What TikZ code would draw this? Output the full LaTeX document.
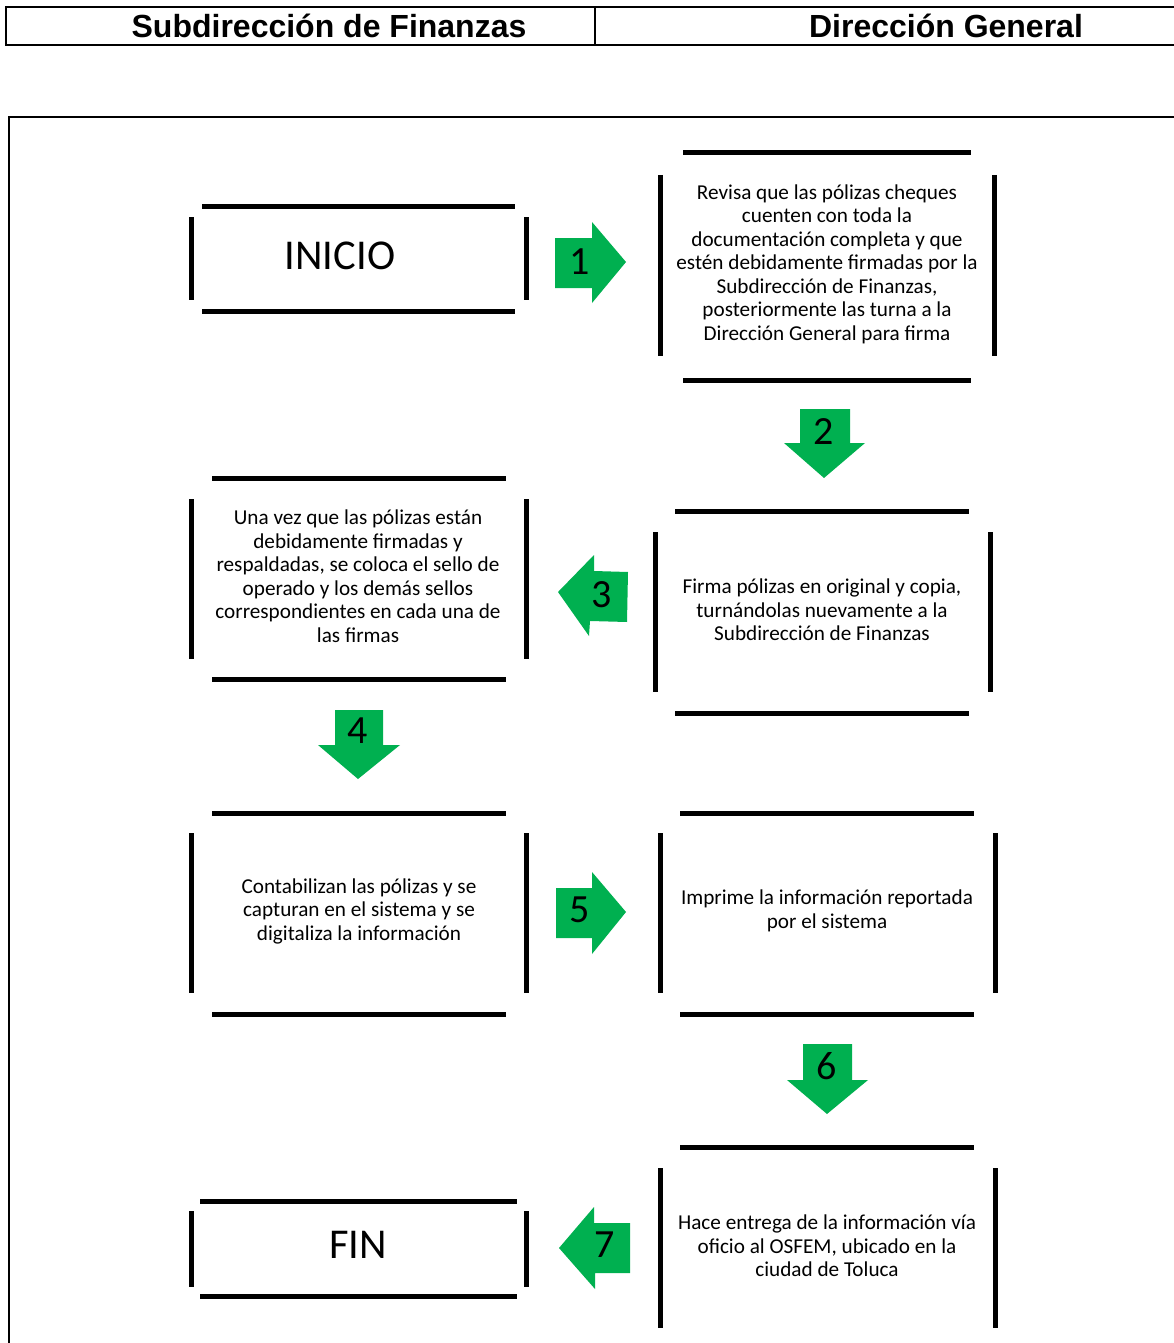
\documentclass[tikz,border=0pt]{standalone}
\usepackage{fontspec}
\setmainfont{Carlito}
\newfontfamily\headfont{Liberation Sans}
\definecolor{flowgreen}{HTML}{00B050}
\begin{document}
\begin{tikzpicture}[x=1pt,y=-1pt,
  bar/.style={line width=5pt},
  frame/.style={line width=1.6pt},
  headline/.style={line width=1.2pt},
  boxtext/.style={align=center,font=\fontsize{21.2}{23.5}\selectfont,inner sep=0pt},
  bigtext/.style={font=\fontsize{42.5}{46}\selectfont,inner sep=0pt},
  numtext/.style={font=\fontsize{40}{44}\selectfont,inner sep=0pt},
  headtext/.style={font=\headfont\bfseries\fontsize{32}{35}\selectfont,inner sep=0pt},
  garrow/.style={fill=flowgreen,draw=none}]
\useasboundingbox (0,0) rectangle (1174,1343);
\fill[white] (0,0) rectangle (1174,1343);

% header
\draw[headline] (1180,7) -- (6,7) -- (6,45) -- (1180,45);
\draw[headline] (595,7) -- (595,45);
\node[headtext] (h1) at (329,26) {Subdirección de Finanzas};
\node[headtext] (h2) at (946,26) {Dirección General};

% outer frame
\draw[frame] (9,1350) -- (9,117) -- (1180,117);

% INICIO
\node[bigtext] (inicio) at (340,256) {INICIO};
\draw[bar] (202,206) -- (515,206) (202,311) -- (515,311) (191,217) -- (191,300) (526,217) -- (526,300);

% Box 1
\node[boxtext] (b1) at (827,264) {Revisa que las pólizas cheques\\cuenten con toda la\\documentación completa y que\\estén debidamente firmadas por la\\Subdirección de Finanzas,\\posteriormente las turna a la\\Dirección General para firma};
\draw[bar] (683,153) -- (971,153) (683,380) -- (971,380) (660,175) -- (660,356) (994,175) -- (994,356);

% Box 3 (right)
\node[boxtext] (b2) at (822,610) {Firma pólizas en original y copia,\\turnándolas nuevamente a la\\Subdirección de Finanzas};
\draw[bar] (675,511) -- (969,511) (675,713) -- (969,713) (655,532) -- (655,692) (990,532) -- (990,692);

% Box 4 (left)
\node[boxtext] (b3) at (358,576) {Una vez que las pólizas están\\debidamente firmadas y\\respaldadas, se coloca el sello de\\operado y los demás sellos\\correspondientes en cada una de\\las firmas};
\draw[bar] (212,478) -- (506,478) (212,679) -- (506,679) (191,499) -- (191,659) (526,499) -- (526,659);

% Box 5 (left)
\node[boxtext] (b4) at (359,911) {Contabilizan las pólizas y se\\capturan en el sistema y se\\digitaliza la información};
\draw[bar] (212,813) -- (506,813) (212,1014) -- (506,1014) (191,833) -- (191,993) (526,833) -- (526,993);

% Box 6 (right)
\node[boxtext] (b5) at (827,911) {Imprime la información reportada\\por el sistema};
\draw[bar] (680,813) -- (974,813) (680,1014) -- (974,1014) (660,833) -- (660,993) (995,833) -- (995,993);

% Box 7 (right bottom)
\node[boxtext] (b6) at (827,1246) {Hace entrega de la información vía\\oficio al OSFEM, ubicado en la\\ciudad de Toluca};
\draw[bar] (680,1147) -- (974,1147) (660,1168) -- (660,1328) (995,1168) -- (995,1328);

% FIN
\node[bigtext] (fin) at (358,1245) {FIN};
\draw[bar] (200,1201) -- (517,1201) (200,1296) -- (517,1296) (191,1211) -- (191,1287) (526,1211) -- (526,1287);

% Arrow 1 (right)
\fill[garrow] (555,238) -- (592,238) -- (592,222) -- (626,262) -- (592,303) -- (592,288) -- (555,288) -- cycle;
\node[numtext] (n1) at (580,262) {1};
% Arrow 2 (down)
\fill[garrow] (800,409) -- (850,409) -- (850,443) -- (865,443) -- (824,478) -- (784,443) -- (800,443) -- cycle;
\node[numtext] (n2) at (824,432) {2};
% Arrow 3 (left)
\fill[garrow] (628,572) -- (627,622) -- (590,621) -- (589,636) -- (558,592) -- (594,555) -- (594,571) -- cycle;
\node[numtext] (n3) at (602,595) {3};
% Arrow 4 (down)
\fill[garrow] (335,710) -- (383,710) -- (383,745) -- (400,745) -- (358,779) -- (318,745) -- (335,745) -- cycle;
\node[numtext] (n4) at (358,731) {4};
% Arrow 5 (right)
\fill[garrow] (556,888) -- (592,888) -- (592,872) -- (626,912) -- (592,954) -- (592,938) -- (556,938) -- cycle;
\node[numtext] (n5) at (580,910) {5};
% Arrow 6 (down)
\fill[garrow] (803,1044) -- (852,1044) -- (852,1080) -- (868,1080) -- (827,1114) -- (787,1080) -- (803,1080) -- cycle;
\node[numtext] (n6) at (827,1066) {6};
% Arrow 7 (left)
\fill[garrow] (630,1223) -- (630,1273) -- (595,1273) -- (595,1289) -- (559,1248) -- (594,1207) -- (594,1223) -- cycle;
\node[numtext] (n7) at (605,1245) {7};
\end{tikzpicture}
\end{document}
